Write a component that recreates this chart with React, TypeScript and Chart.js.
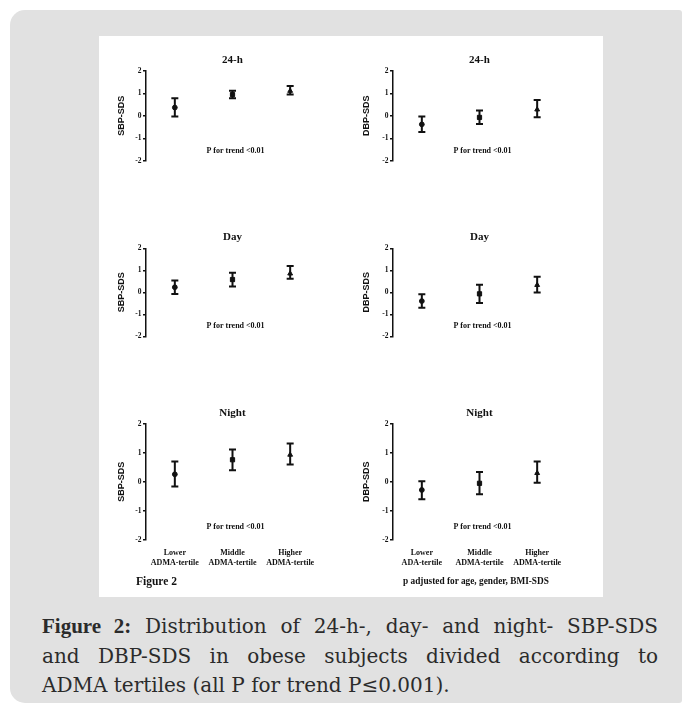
import React, { useEffect, useRef } from "react";
import { Chart, registerables } from "chart.js";

Chart.register(...registerables);

// ---- data ----
const categoriesSBP = [["Lower", "ADMA-tertile"], ["Middle", "ADMA-tertile"], ["Higher", "ADMA-tertile"]];
const categoriesDBP = [["Lower", "ADA-tertile"], ["Middle", "ADMA-tertile"], ["Higher", "ADMA-tertile"]];
const yTicks = [-2, -1, 0, 1, 2];
const markerStyles = ["circle", "rect", "triangle"];

const sbp24Mean = [0.37, 0.95, 1.11];
const sbp24Low = [-0.03, 0.79, 0.95];
const sbp24High = [0.79, 1.12, 1.33];

const dbp24Mean = [-0.38, -0.07, 0.28];
const dbp24Low = [-0.72, -0.36, -0.06];
const dbp24High = [-0.03, 0.24, 0.71];

const sbpDayMean = [0.23, 0.58, 0.85];
const sbpDayLow = [-0.08, 0.26, 0.62];
const sbpDayHigh = [0.54, 0.89, 1.2];

const dbpDayMean = [-0.4, -0.07, 0.33];
const dbpDayLow = [-0.7, -0.49, -0.01];
const dbpDayHigh = [-0.09, 0.34, 0.71];

const sbpNightMean = [0.26, 0.76, 0.93];
const sbpNightLow = [-0.16, 0.4, 0.6];
const sbpNightHigh = [0.7, 1.11, 1.32];

const dbpNightMean = [-0.28, -0.05, 0.3];
const dbpNightLow = [-0.6, -0.43, -0.03];
const dbpNightHigh = [0.02, 0.34, 0.7];

const trendText = "P for trend <0.01";
const trendY = -1.55;

const INK = "#111";
const SERIF = "'Liberation Serif', 'Times New Roman', serif";
const SANS = "'Liberation Sans', Arial, sans-serif";
const CAPTION = "'DejaVu Serif', serif";

type PanelDef = {
  title: string;
  yLabel: string;
  mean: number[];
  low: number[];
  high: number[];
  labels: string[][];
  showX: boolean;
  // layout
  left: number;
  top: number;
  height: number;
  padTop: number;
  padBottom: number;
  titlePad: number;
};

const panels: PanelDef[] = [
  { title: "24-h", yLabel: "SBP-SDS", mean: sbp24Mean, low: sbp24Low, high: sbp24High, labels: categoriesSBP, showX: false,
    left: 100, top: 36, height: 190, padTop: 35, padBottom: 39.3, titlePad: 16.3 },
  { title: "24-h", yLabel: "DBP-SDS", mean: dbp24Mean, low: dbp24Low, high: dbp24High, labels: categoriesDBP, showX: false,
    left: 347, top: 36, height: 190, padTop: 35, padBottom: 39.3, titlePad: 14.3 },
  { title: "Day", yLabel: "SBP-SDS", mean: sbpDayMean, low: sbpDayLow, high: sbpDayHigh, labels: categoriesSBP, showX: false,
    left: 100, top: 226, height: 169, padTop: 22.3, padBottom: 32.7, titlePad: 16.3 },
  { title: "Day", yLabel: "DBP-SDS", mean: dbpDayMean, low: dbpDayLow, high: dbpDayHigh, labels: categoriesDBP, showX: false,
    left: 347, top: 226, height: 169, padTop: 22.3, padBottom: 32.7, titlePad: 14.3 },
  { title: "Night", yLabel: "SBP-SDS", mean: sbpNightMean, low: sbpNightLow, high: sbpNightHigh, labels: categoriesSBP, showX: true,
    left: 100, top: 395, height: 202, padTop: 28.7, padBottom: 31, titlePad: 16.3 },
  { title: "Night", yLabel: "DBP-SDS", mean: dbpNightMean, low: dbpNightLow, high: dbpNightHigh, labels: categoriesDBP, showX: true,
    left: 347, top: 395, height: 202, padTop: 28.7, padBottom: 31, titlePad: 14.3 },
];

const errorBarPlugin = {
  id: "errorBars",
  beforeDatasetsDraw(chart: any) {
    const { ctx } = chart;
    const y = chart.scales.y;
    chart.data.datasets.forEach((ds: any, di: number) => {
      const meta = chart.getDatasetMeta(di);
      ds.data.forEach((_v: number, i: number) => {
        const px = meta.data[i].x;
        const yl = y.getPixelForValue(ds.errLow[i]);
        const yh = y.getPixelForValue(ds.errHigh[i]);
        ctx.save();
        ctx.strokeStyle = INK;
        ctx.lineWidth = 2;
        ctx.beginPath();
        ctx.moveTo(px, yl);
        ctx.lineTo(px, yh);
        ctx.moveTo(px - 3.5, yl);
        ctx.lineTo(px + 3.5, yl);
        ctx.moveTo(px - 3.5, yh);
        ctx.lineTo(px + 3.5, yh);
        ctx.stroke();
        ctx.restore();
      });
    });
  },
};

const panelTextPlugin = {
  id: "panelText",
  afterDraw(chart: any, _args: any, opts: any) {
    const { ctx, chartArea } = chart;
    const x = chart.scales.x;
    const y = chart.scales.y;
    ctx.save();
    ctx.fillStyle = INK;
    ctx.textAlign = "center";
    ctx.textBaseline = "middle";
    ctx.font = `bold 11px ${SERIF}`;
    ctx.fillText(opts.title, (chartArea.left + chartArea.right) / 2, chartArea.top - 11);
    ctx.font = `bold 8px ${SERIF}`;
    ctx.fillText(trendText, x.getPixelForValue(1) + 3, y.getPixelForValue(trendY));
    ctx.restore();
  },
};

function Panel({ def }: { def: PanelDef }) {
  const ref = useRef<HTMLCanvasElement>(null);
  useEffect(() => {
    if (!ref.current) return;
    const chart = new Chart(ref.current, {
      type: "line",
      data: {
        labels: def.labels,
        datasets: [
          {
            data: def.mean,
            showLine: false,
            pointStyle: markerStyles,
            pointRadius: [2.4, 3.0, 2.8],
            pointBackgroundColor: INK,
            pointBorderColor: INK,
            pointBorderWidth: 1,
            borderColor: INK,
            errLow: def.low,
            errHigh: def.high,
          } as any,
        ],
      },
      options: {
        responsive: false,
        animation: false,
        devicePixelRatio: 1,
        layout: { padding: { top: def.padTop, bottom: def.padBottom, left: 0, right: 21 } },
        plugins: {
          legend: { display: false },
          tooltip: { enabled: false },
          panelText: { title: def.title },
        } as any,
        scales: {
          x: {
            type: "category",
            offset: true,
            display: def.showX,
            grid: { display: false },
            border: { display: false },
            ticks: {
              font: { family: SERIF, weight: "bold", size: 8, lineHeight: 1.25 },
              color: INK,
              padding: 0,
              maxRotation: 0,
              autoSkip: false,
            },
            afterFit: (s: any) => {
              s.height = 26;
            },
          },
          y: {
            min: -2,
            max: 2,
            afterBuildTicks: (s: any) => {
              s.ticks = yTicks.map((v) => ({ value: v }));
            },
            ticks: {
              stepSize: 1,
              font: { family: SERIF, weight: "bold", size: 7.5 },
              color: INK,
              padding: 1.5,
            },
            grid: { drawOnChartArea: false, drawTicks: true, tickLength: 3, color: INK, lineWidth: 1.5 },
            border: { display: true, color: INK, width: 1.5 },
            title: {
              display: true,
              text: def.yLabel,
              color: INK,
              font: { family: SANS, weight: "bold", size: 9 },
              padding: { top: def.titlePad, bottom: 0 },
            },
            afterFit: (s: any) => {
              s.width = 46;
            },
          },
        },
      } as any,
      plugins: [errorBarPlugin, panelTextPlugin],
    });
    return () => chart.destroy();
  }, [def]);
  return (
    <canvas
      ref={ref}
      width={240}
      height={def.height}
      style={{ position: "absolute", left: def.left, top: def.top, width: 240, height: def.height }}
    />
  );
}

export default function App() {
  return (
    <div style={{ position: "absolute", left: 0, top: 0, width: 682, height: 713, background: "#fff", overflow: "hidden" }}>
      <div
        style={{
          position: "absolute",
          left: 10,
          top: 10,
          width: 672,
          height: 693,
          background: "#e1e1e1",
          borderRadius: "15px 3px 3px 15px",
        }}
      />
      <div style={{ position: "absolute", left: 99, top: 36, width: 504, height: 561, background: "#fff" }} />
      {panels.map((p, i) => (
        <Panel key={i} def={p} />
      ))}
      <div
        style={{
          position: "absolute",
          left: 136,
          top: 574,
          font: `bold 11.5px ${SERIF}`,
          color: INK,
          lineHeight: "14px",
          whiteSpace: "nowrap",
        }}
      >
        Figure 2
      </div>
      <div
        style={{
          position: "absolute",
          left: 403,
          top: 575,
          font: `bold 9.3px ${SERIF}`,
          color: INK,
          lineHeight: "12px",
          whiteSpace: "nowrap",
        }}
      >
        p adjusted for age, gender, BMI-SDS
      </div>
      <div
        style={{
          position: "absolute",
          left: 42,
          top: 612,
          width: 616,
          font: `20px ${CAPTION}`,
          lineHeight: "29.5px",
          color: "#2b2b2b",
        }}
      >
        <div style={{ textAlign: "justify", textAlignLast: "justify", whiteSpace: "nowrap" as any }}>
          <b style={{ fontFamily: SERIF, fontSize: 21 }}>Figure 2:</b> Distribution of 24-h-, day- and night- SBP-SDS
        </div>
        <div style={{ textAlign: "justify", textAlignLast: "justify" }}>
          and DBP-SDS in obese subjects divided according to
        </div>
        <div>ADMA tertiles (all P for trend P≤0.001).</div>
      </div>
    </div>
  );
}
